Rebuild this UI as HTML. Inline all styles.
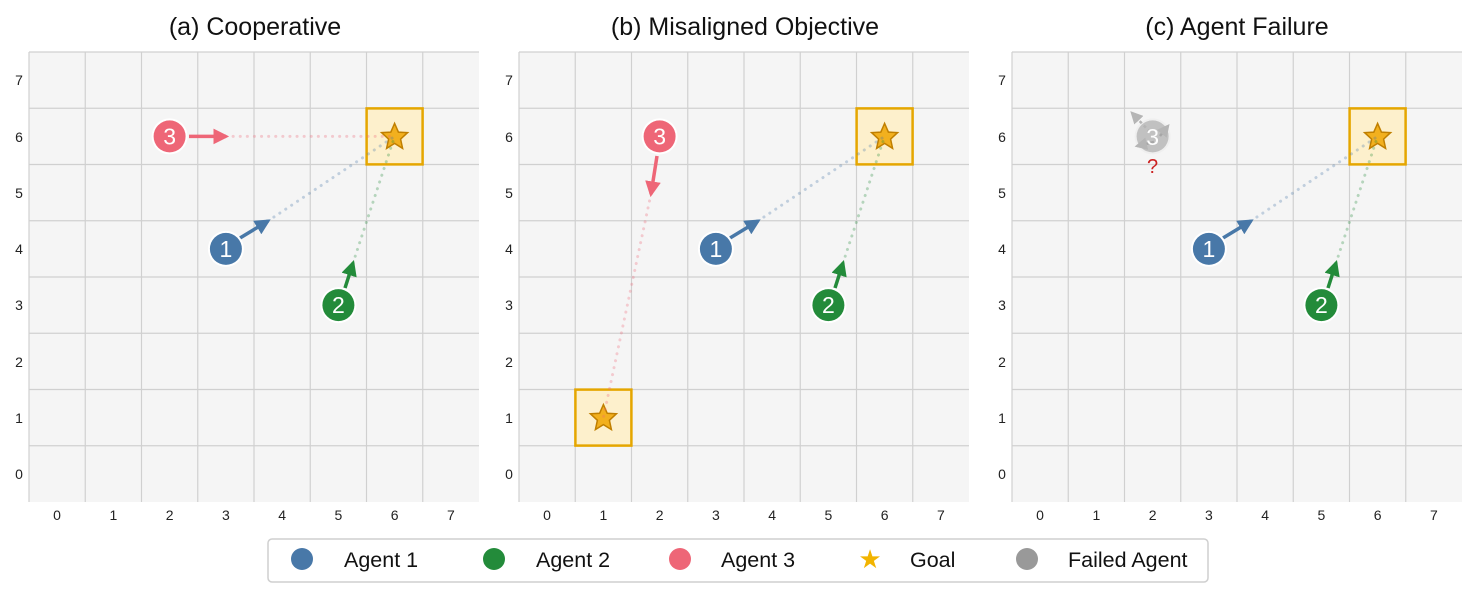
<!DOCTYPE html>
<html><head><meta charset="utf-8"><style>
body{margin:0;background:#fff;}
svg{display:block;font-family:"Liberation Sans",Arial,sans-serif;}
</style></head><body>
<svg width="1476" height="594" viewBox="0 0 1476 594" xmlns="http://www.w3.org/2000/svg">
<defs>
<marker id="ab" viewBox="0 0 10 10" refX="8" refY="5" markerWidth="4.5" markerHeight="4.5" orient="auto"><path d="M0,0 L10,5 L0,10 z" fill="#4878a8"/></marker>
<marker id="ag" viewBox="0 0 10 10" refX="8" refY="5" markerWidth="4.5" markerHeight="4.5" orient="auto"><path d="M0,0 L10,5 L0,10 z" fill="#238b3a"/></marker>
<marker id="ar" viewBox="0 0 10 10" refX="8" refY="5" markerWidth="4.5" markerHeight="4.5" orient="auto"><path d="M0,0 L10,5 L0,10 z" fill="#ee6677"/></marker>
<marker id="ay" viewBox="0 0 10 10" refX="8" refY="5" markerWidth="5" markerHeight="5" orient="auto"><path d="M0,0 L10,5 L0,10 z" fill="#aaa"/></marker>
<g id="grid">
<rect x="0" y="0" width="450" height="450" fill="#f5f5f5"/>
<g stroke="#d0d0d0" stroke-width="1.2">
<line x1="56.25" y1="0" x2="56.25" y2="450"/><line x1="112.5" y1="0" x2="112.5" y2="450"/><line x1="168.75" y1="0" x2="168.75" y2="450"/><line x1="225" y1="0" x2="225" y2="450"/><line x1="281.25" y1="0" x2="281.25" y2="450"/><line x1="337.5" y1="0" x2="337.5" y2="450"/><line x1="393.75" y1="0" x2="393.75" y2="450"/>
<line y1="56.25" x1="0" y2="56.25" x2="450"/><line y1="112.5" x1="0" y2="112.5" x2="450"/><line y1="168.75" x1="0" y2="168.75" x2="450"/><line y1="225" x1="0" y2="225" x2="450"/><line y1="281.25" x1="0" y2="281.25" x2="450"/><line y1="337.5" x1="0" y2="337.5" x2="450"/><line y1="393.75" x1="0" y2="393.75" x2="450"/>
<line x1="0" y1="0" x2="450" y2="0"/><line x1="0" y1="0" x2="0" y2="450"/>
</g>
<g font-size="14" fill="#222" text-anchor="middle">
<text x="28" y="468">0</text><text x="84.4" y="468">1</text><text x="140.6" y="468">2</text><text x="196.9" y="468">3</text><text x="253.1" y="468">4</text><text x="309.4" y="468">5</text><text x="365.6" y="468">6</text><text x="421.9" y="468">7</text>
<text x="-10" y="427">0</text><text x="-10" y="371">1</text><text x="-10" y="315">2</text><text x="-10" y="258">3</text><text x="-10" y="202">4</text><text x="-10" y="146">5</text><text x="-10" y="90">6</text><text x="-10" y="33">7</text>
</g>
</g>
<g id="goal">
<rect x="-28" y="-28" width="56" height="56" fill="#fdf0cc" stroke="#e5a600" stroke-width="2.5"/>
<path d="M0,-13 L3.8,-4.3 L13,-3.8 L6,2.7 L8,12 L0,7 L-8,12 L-6,2.7 L-13,-3.8 L-3.8,-4.3 Z" fill="#f2b01e" stroke="#c07f00" stroke-width="1.5"/>
</g>
<g id="a1"><circle r="18" fill="#fff"/><circle r="16" fill="#4878a8"/><text y="8" font-size="23" fill="#fff" text-anchor="middle">1</text></g>
<g id="a2"><circle r="18" fill="#fff"/><circle r="16" fill="#238b3a"/><text y="8" font-size="23" fill="#fff" text-anchor="middle">2</text></g>
<g id="a3"><circle r="18" fill="#fff"/><circle r="16" fill="#ee6677"/><text y="8" font-size="23" fill="#fff" text-anchor="middle">3</text></g>
</defs>

<g font-size="25" fill="#111" text-anchor="middle">
<text x="255" y="35">(a) Cooperative</text>
<text x="745" y="35">(b) Misaligned Objective</text>
<text x="1237" y="35">(c) Agent Failure</text>
</g>

<!-- Panel a -->
<g transform="translate(29,52)">
<use href="#grid"/>
<use href="#goal" x="365.6" y="84.4"/>
<g stroke-dasharray="0.1,7" stroke-width="3" stroke-linecap="round" fill="none" opacity="0.3">
<line x1="197" y1="84.4" x2="365.6" y2="84.4" stroke="#ee6677"/>
<line x1="239" y1="169" x2="365.6" y2="84.4" stroke="#4878a8"/>
<line x1="324" y1="211" x2="365.6" y2="84.4" stroke="#238b3a"/>
</g>
<line x1="160" y1="84.4" x2="197" y2="84.4" stroke="#ee6677" stroke-width="3.5" marker-end="url(#ar)"/>
<line x1="211" y1="186" x2="239" y2="169" stroke="#4878a8" stroke-width="3.5" marker-end="url(#ab)"/>
<line x1="316" y1="236" x2="324" y2="211" stroke="#238b3a" stroke-width="3.5" marker-end="url(#ag)"/>
<use href="#a3" x="140.6" y="84.4"/>
<use href="#a1" x="196.9" y="196.9"/>
<use href="#a2" x="309.4" y="253.1"/>
</g>

<!-- Panel b -->
<g transform="translate(519,52)">
<use href="#grid"/>
<use href="#goal" x="365.6" y="84.4"/>
<use href="#goal" x="84.4" y="365.6"/>
<g stroke-dasharray="0.1,7" stroke-width="3" stroke-linecap="round" fill="none" opacity="0.3">
<line x1="132" y1="142" x2="84.4" y2="365.6" stroke="#ee6677"/>
<line x1="239" y1="169" x2="365.6" y2="84.4" stroke="#4878a8"/>
<line x1="324" y1="211" x2="365.6" y2="84.4" stroke="#238b3a"/>
</g>
<line x1="138" y1="104" x2="132" y2="142" stroke="#ee6677" stroke-width="3.5" marker-end="url(#ar)"/>
<line x1="211" y1="186" x2="239" y2="169" stroke="#4878a8" stroke-width="3.5" marker-end="url(#ab)"/>
<line x1="316" y1="236" x2="324" y2="211" stroke="#238b3a" stroke-width="3.5" marker-end="url(#ag)"/>
<use href="#a3" x="140.6" y="84.4"/>
<use href="#a1" x="196.9" y="196.9"/>
<use href="#a2" x="309.4" y="253.1"/>
</g>

<!-- Panel c -->
<g transform="translate(1012,52)">
<use href="#grid"/>
<use href="#goal" x="365.6" y="84.4"/>
<g stroke-dasharray="0.1,7" stroke-width="3" stroke-linecap="round" fill="none" opacity="0.3">
<line x1="239" y1="169" x2="365.6" y2="84.4" stroke="#4878a8"/>
<line x1="324" y1="211" x2="365.6" y2="84.4" stroke="#238b3a"/>
</g>
<line x1="211" y1="186" x2="239" y2="169" stroke="#4878a8" stroke-width="3.5" marker-end="url(#ab)"/>
<line x1="316" y1="236" x2="324" y2="211" stroke="#238b3a" stroke-width="3.5" marker-end="url(#ag)"/>
<use href="#a1" x="196.9" y="196.9"/>
<use href="#a2" x="309.4" y="253.1"/>
<g opacity="0.85">
<circle cx="140.6" cy="84.4" r="18" fill="#eee"/>
<circle cx="140.6" cy="84.4" r="16" fill="#b8b8b8"/>
<line x1="138" y1="80" x2="120" y2="61" stroke="#aaa" stroke-width="2.5" stroke-dasharray="3,3" marker-end="url(#ay)"/>
<line x1="148" y1="84" x2="156" y2="74" stroke="#999" stroke-width="2.5" marker-end="url(#ay)"/>
<line x1="142" y1="90" x2="125" y2="94" stroke="#999" stroke-width="2.5" marker-end="url(#ay)"/>
<text x="140.6" y="93" font-size="23" fill="#fff" text-anchor="middle">3</text>
</g>
<text x="140.6" y="121" font-size="20" fill="#cc2222" text-anchor="middle">?</text>
</g>

<!-- Legend -->
<rect x="268" y="539" width="940" height="43" rx="4" fill="#fff" stroke="#cfcfcf" stroke-width="1.5"/>
<g font-size="21.5" fill="#111">
<circle cx="302" cy="559" r="11" fill="#4878a8"/><text x="344" y="567">Agent 1</text>
<circle cx="494" cy="559" r="11" fill="#238b3a"/><text x="536" y="567">Agent 2</text>
<circle cx="680" cy="559" r="11" fill="#ee6677"/><text x="721" y="567">Agent 3</text>
<text x="870" y="568" font-size="26" fill="#f2b400" text-anchor="middle">★</text><text x="910" y="567">Goal</text>
<circle cx="1027" cy="559" r="11" fill="#999"/><text x="1068" y="567">Failed Agent</text>
</g>
</svg>
</body></html>
